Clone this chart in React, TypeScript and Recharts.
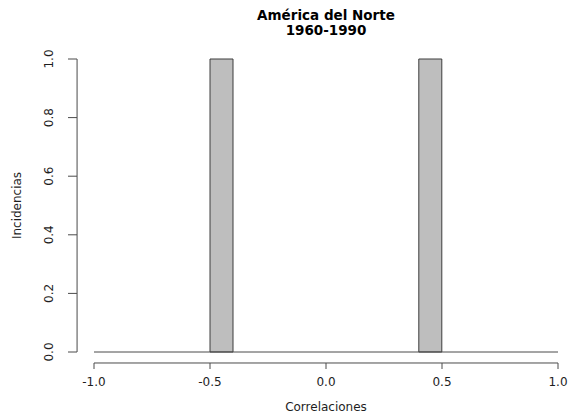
import { BarChart, Bar, XAxis, YAxis, ReferenceLine } from 'recharts';

// lower edge of each 0.1-wide bin
const binStarts = [
  '-1.0', '-0.9', '-0.8', '-0.7', '-0.6', '-0.5', '-0.4', '-0.3', '-0.2', '-0.1',
  '0.0', '0.1', '0.2', '0.3', '0.4', '0.5', '0.6', '0.7', '0.8', '0.9'
];
const incidencias = [0, 0, 0, 0, 0, 1, 0, 0, 0, 0, 0, 0, 0, 0, 1, 0, 0, 0, 0, 0];
const xTicks = [-1, -0.5, 0, 0.5, 1];
const yTicks = [0, 0.2, 0.4, 0.6, 0.8, 1];
const titleLines = ['América del Norte', '1960-1990'];

const data = binStarts.map((b, i) => ({ bin: b, mid: Number(b) + 0.05, count: incidencias[i] }));

const W = 568;
const H = 415;
const TOP = 59;
const LEFT = 94;
const RIGHT = 10;
const Y_AXIS_W = 60;
const X_AXIS_H = 40;
const BOTTOM = 23;
const PLOT_BOTTOM = H - BOTTOM - X_AXIS_H;
const PLOT_W = W - LEFT - RIGHT;
const PLOT_H = PLOT_BOTTOM - TOP;

const LINE = '#4a4a4a';
const TEXT = '#1e1e1e';
const FONT = '"DejaVu Sans", sans-serif';

const XTick = (props: any) => {
  const { x, payload } = props;
  const ay = PLOT_BOTTOM + 11;
  return (
    <g>
      <line x1={x} x2={x} y1={ay} y2={ay + 6} stroke={LINE} />
      <text x={x} y={PLOT_BOTTOM + 34} textAnchor="middle" fontSize={12} fontFamily={FONT} fill={TEXT}>
        {Number(payload.value).toFixed(1)}
      </text>
    </g>
  );
};

const YTick = (props: any) => {
  const { y, payload } = props;
  const ax = LEFT - 17;
  return (
    <g>
      <line x1={ax - 9} x2={ax} y1={y} y2={y} stroke={LINE} />
      <text
        x={53}
        y={y}
        transform={`rotate(-90 53 ${y})`}
        textAnchor="middle"
        fontSize={12}
        fontFamily={FONT}
        fill={TEXT}
      >
        {Number(payload.value).toFixed(1)}
      </text>
    </g>
  );
};

const XLabel = () => (
  <text x={LEFT + PLOT_W / 2} y={411} textAnchor="middle" fontSize={12} fontFamily={FONT} fill={TEXT}>
    Correlaciones
  </text>
);

const YLabel = () => {
  const cy = TOP + PLOT_H / 2;
  return (
    <text
      x={21}
      y={cy}
      transform={`rotate(-90 21 ${cy})`}
      textAnchor="middle"
      fontSize={12}
      fontFamily={FONT}
      fill={TEXT}
    >
      Incidencias
    </text>
  );
};

export default function App() {
  return (
    <div style={{ position: 'absolute', left: 0, top: 0, width: W, height: H, background: '#fff' }}>
      <BarChart
        width={W}
        height={H}
        data={data}
        margin={{ top: TOP, right: RIGHT, bottom: BOTTOM, left: LEFT - Y_AXIS_W }}
        barCategoryGap={0}
        barGap={0}
      >
        <XAxis xAxisId="bins" dataKey="bin" type="category" hide />
        <XAxis
          xAxisId="num"
          dataKey="mid"
          type="number"
          domain={[-1, 1]}
          ticks={xTicks}
          interval={0}
          allowDataOverflow
          axisLine={false}
          tickLine={false}
          tick={<XTick />}
          height={X_AXIS_H}
          label={XLabel}
        />
        <YAxis
          domain={[0, 1]}
          ticks={yTicks}
          interval={0}
          axisLine={false}
          tickLine={false}
          tick={<YTick />}
          width={Y_AXIS_W}
          label={YLabel}
        />
        {/* axes sit a little off the plot like R's base graphics */}
        <ReferenceLine
          xAxisId="num"
          segment={[{ x: -1, y: -0.0375 }, { x: 1, y: -0.0375 }]}
          stroke={LINE}
          ifOverflow="visible"
        />
        <ReferenceLine
          xAxisId="num"
          segment={[{ x: -1.073, y: 0 }, { x: -1.073, y: 1 }]}
          stroke={LINE}
          ifOverflow="visible"
        />
        <ReferenceLine xAxisId="num" y={0} stroke={LINE} />
        <Bar xAxisId="bins" dataKey="count" fill="#bebebe" stroke="#3c3c3c" isAnimationActive={false} />
      </BarChart>
      <svg width={W} height={H} style={{ position: 'absolute', left: 0, top: 0, pointerEvents: 'none' }}>
        {titleLines.map((t, i) => (
          <text
            key={t}
            x={LEFT + PLOT_W / 2}
            y={19.5 + i * 15}
            textAnchor="middle"
            fontSize={13.5}
            fontWeight="bold"
            fontFamily={FONT}
            fill="#000"
          >
            {t}
          </text>
        ))}
      </svg>
    </div>
  );
}
